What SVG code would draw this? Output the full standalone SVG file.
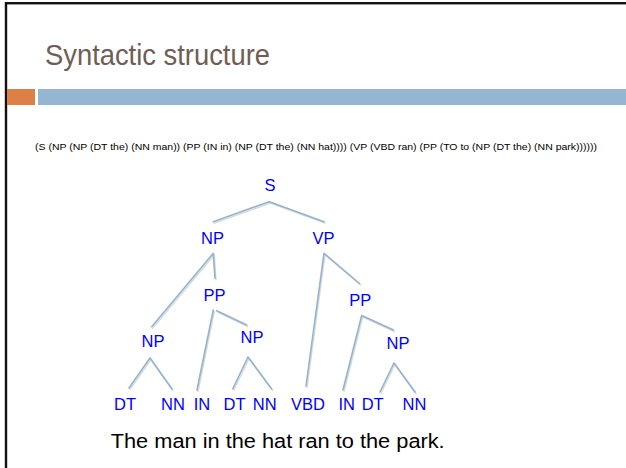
<svg xmlns="http://www.w3.org/2000/svg" width="626" height="468" viewBox="0 0 626 468">
<style>
.lbl{font-family:"Liberation Sans",Arial,sans-serif;font-size:16.5px;fill:#0000ff;text-anchor:middle}
.edge{stroke:#94b3cf;stroke-width:1.6;fill:none;stroke-linecap:round}
.shadow{stroke:#c9c9c9;stroke-width:1.4;fill:none;opacity:0.7;stroke-linecap:round}
</style>
<rect x="0" y="0" width="626" height="468" fill="#ffffff"/>
<line x1="6" y1="3" x2="626" y2="3" stroke="#111" stroke-width="2"/>
<line x1="5" y1="4.5" x2="626" y2="4.5" stroke="#999" stroke-width="1"/>
<line x1="6" y1="2" x2="6" y2="468" stroke="#111" stroke-width="2.4"/>
<text x="45" y="65" font-family="'Liberation Sans',Arial,sans-serif" font-size="30" fill="#6f5d56" textLength="225" lengthAdjust="spacingAndGlyphs">Syntactic structure</text>
<rect x="7" y="89" width="28" height="16" fill="#dd8047"/>
<rect x="38" y="89" width="588" height="16" fill="#94b6d2"/>
<text x="35" y="150" font-family="'Liberation Sans',Arial,sans-serif" font-size="9.5" fill="#000" textLength="562" lengthAdjust="spacingAndGlyphs">(S (NP (NP (DT the) (NN man)) (PP (IN in) (NP (DT the) (NN hat)))) (VP (VBD ran) (PP (TO to (NP (DT the) (NN park))))))</text>
<g id="connectors">
<g transform="translate(1,1.5)">
<path class="shadow" d="M269.3,201.7 L213.3,221.7 M269.3,201.7 L324,221.7 M213.3,253.3 L151.7,326.7 M213.3,253.3 L215,278.3 M324,253.3 L306,386 M324,253.3 L359.5,283.5 M213.3,310 L197,390 M216.7,310.7 L246.7,325 M361.7,315.5 L343,390 M361.7,315.5 L393.5,330 M150,358 L129,388 M150,358 L172,389 M248,357 L232.7,389 M248,357 L271.7,389 M394,363 L380,392 M394,363 L415,392"/>
</g>
<path class="edge" d="M269.3,201.7 L213.3,221.7 M269.3,201.7 L324,221.7 M213.3,253.3 L151.7,326.7 M213.3,253.3 L215,278.3 M324,253.3 L306,386 M324,253.3 L359.5,283.5 M213.3,310 L197,390 M216.7,310.7 L246.7,325 M361.7,315.5 L343,390 M361.7,315.5 L393.5,330 M150,358 L129,388 M150,358 L172,389 M248,357 L232.7,389 M248,357 L271.7,389 M394,363 L380,392 M394,363 L415,392"/>
</g>
<g id="S"><text class="lbl" x="270" y="191">S</text></g>
<g id="NP1"><text class="lbl" x="212.5" y="244">NP</text></g>
<g id="VP"><text class="lbl" x="323.5" y="244">VP</text></g>
<g id="PP1"><text class="lbl" x="214.5" y="300.5">PP</text></g>
<g id="PP2"><text class="lbl" x="360.3" y="306">PP</text></g>
<g id="NP2"><text class="lbl" x="153" y="347">NP</text></g>
<g id="NP3"><text class="lbl" x="252" y="343">NP</text></g>
<g id="NP4"><text class="lbl" x="398" y="349">NP</text></g>
<g id="DT1"><text class="lbl" x="125" y="410">DT</text></g>
<g id="NN1"><text class="lbl" x="173" y="410">NN</text></g>
<g id="IN1"><text class="lbl" x="202" y="410">IN</text></g>
<g id="DT2"><text class="lbl" x="234.5" y="410">DT</text></g>
<g id="NN2"><text class="lbl" x="264.7" y="410">NN</text></g>
<g id="VBD"><text class="lbl" x="308" y="410">VBD</text></g>
<g id="IN2"><text class="lbl" x="346.7" y="410">IN</text></g>
<g id="DT3"><text class="lbl" x="372.7" y="410">DT</text></g>
<g id="NN3"><text class="lbl" x="414.5" y="410">NN</text></g>
<text x="110.7" y="448" font-family="'Liberation Sans',Arial,sans-serif" font-size="19.5" fill="#000" textLength="334" lengthAdjust="spacingAndGlyphs">The man in the hat ran to the park.</text>
</svg>
